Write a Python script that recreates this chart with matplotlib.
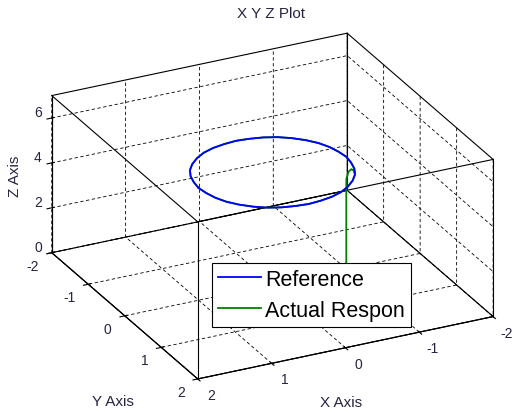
from itertools import product

import matplotlib
matplotlib.use('Agg')
import matplotlib.pyplot as plt
import numpy as np
from matplotlib.ticker import NullFormatter
from mpl_toolkits.mplot3d import proj3d

plt.rcParams['font.family'] = ['Liberation Sans', 'DejaVu Sans']
plt.rcParams['axes.unicode_minus'] = False

# reference path: the circle at z = 5 (read every 10 degrees)
ref_x = [1.00, 0.98, 0.94, 0.87, 0.77, 0.64, 0.50, 0.34, 0.17, 0.00,
         -0.17, -0.34, -0.50, -0.64, -0.77, -0.87, -0.94, -0.98, -1.00,
         -0.98, -0.94, -0.87, -0.77, -0.64, -0.50, -0.34, -0.17, 0.00,
         0.17, 0.34, 0.50, 0.64, 0.77, 0.87, 0.94, 0.98, 1.00]
ref_y = [0.00, 0.17, 0.34, 0.50, 0.64, 0.77, 0.87, 0.94, 0.98, 1.00,
         0.98, 0.94, 0.87, 0.77, 0.64, 0.50, 0.34, 0.17, 0.00,
         -0.17, -0.34, -0.50, -0.64, -0.77, -0.87, -0.94, -0.98, -1.00,
         -0.98, -0.94, -0.87, -0.77, -0.64, -0.50, -0.34, -0.17, 0.00]
ref_z = [5.0] * len(ref_x)

# actual response: climb from the ground, then it sits on the reference circle
climb_x = [-1.00, -1.00, -1.00, -1.00, -1.00, -0.99, -0.97, -0.93]
climb_y = [0.00, 0.00, 0.00, 0.00, 0.00, 0.08, 0.20, 0.36]
climb_z = [0.0, 1.0, 2.0, 3.0, 4.0, 4.45, 4.75, 4.93]
act_x = climb_x + ref_x[15:] + ref_x[1:16]
act_y = climb_y + ref_y[15:] + ref_y[1:16]
act_z = climb_z + ref_z[15:] + ref_z[1:16]

x_ticks = [-2, -1, 0, 1, 2]
y_ticks = [-2, -1, 0, 1, 2]
z_ticks = [0, 2, 4, 6]
xlim, ylim, zlim = (-2, 2), (-2, 2), (0, 7)

fig = plt.figure(figsize=(5.15, 4.14), dpi=100)
ax = fig.add_axes([0.0476, -0.0990, 0.9375, 1.1662], projection='3d',
                  proj_type='ortho', computed_zorder=False)
ax.view_init(elev=25.3, azim=63.7)
ax.set_box_aspect((4, 4, 2.11))
ax.set_xlim(*xlim)
ax.set_ylim(*ylim)
ax.set_zlim(*zlim)
ax.set_xticks(x_ticks)
ax.set_yticks(y_ticks)
ax.set_zticks(z_ticks)
ax.zaxis.set_ticks_position('lower')
ax.title.set_visible(False)

txt_col = '#2a2340'
for axis in (ax.xaxis, ax.yaxis, ax.zaxis):
    # the tick labels are placed by hand below, MATLAB style
    axis.set_major_formatter(NullFormatter())
    axis.set_tick_params(labelbottom=False)
    axis.label.set_visible(False)
    axis.set_pane_color((1, 1, 1, 1))
    axis.pane.set_edgecolor('white')
    axis.line.set_color('k')
    axis.line.set_linewidth(0.8)
    axis._axinfo['grid'].update(color='k', linewidth=0.6, linestyle=(0, (4, 3)))

# full MATLAB-style box
corners = list(product(xlim, ylim, zlim))
for a in corners:
    for b in corners:
        if a < b and sum(p != q for p, q in zip(a, b)) == 1:
            ax.plot(*zip(a, b), color='k', lw=0.8, zorder=2)

# tick labels next to the MATLAB edges (offsets in pixels, y down)
M = ax.get_proj()


def edge_labels(xs, ys, zs, values, dx, dy, ha):
    px, py, _ = proj3d.proj_transform(np.asarray(xs, float), np.asarray(ys, float),
                                      np.asarray(zs, float), M)
    for x, y, v in zip(px, py, values):
        ax.annotate(str(v), (x, y), xytext=(dx, -dy), textcoords='offset pixels',
                    ha=ha, va='center', fontsize=10, color=txt_col)


n = len(x_ticks)
edge_labels(x_ticks, [ylim[1]] * n, [zlim[0]] * n, x_ticks, 13, 16, 'center')
n = len(y_ticks)
edge_labels([xlim[1]] * n, y_ticks, [zlim[0]] * n, y_ticks, -13, 13, 'right')
n = len(z_ticks)
edge_labels([xlim[1]] * n, [ylim[0]] * n, z_ticks, z_ticks, -10, -6, 'right')

ax.plot(act_x, act_y, act_z, color='#008000', lw=1.3, zorder=3, label='Actual Respon')
ax.plot(ref_x, ref_y, ref_z, color='#0000ff', lw=1.3, zorder=4, label='Reference')

handles, labels = ax.get_legend_handles_labels()
leg = ax.legend(handles[::-1], labels[::-1], loc='upper left',
                bbox_to_anchor=(212 / 515, 1 - 264 / 414), bbox_transform=fig.transFigure,
                fontsize=15.5, fancybox=False, edgecolor='k', framealpha=1,
                borderpad=0.27, labelspacing=0.47, handlelength=2.0,
                handletextpad=0.2, borderaxespad=0)
leg.get_frame().set_linewidth(0.8)

fig.text(0.526, 0.966, 'X Y Z Plot', ha='center', va='center', fontsize=11, color=txt_col)
fig.text(341 / 515, 1 - 403 / 414, 'X Axis', ha='center', va='center', fontsize=11, color=txt_col)
fig.text(113 / 515, 1 - 402 / 414, 'Y Axis', ha='center', va='center', fontsize=11, color=txt_col)
fig.text(15 / 515, 1 - 176 / 414, 'Z Axis', ha='center', va='center', fontsize=11,
         rotation=90, color=txt_col)

fig.savefig('out.png', dpi=100)
